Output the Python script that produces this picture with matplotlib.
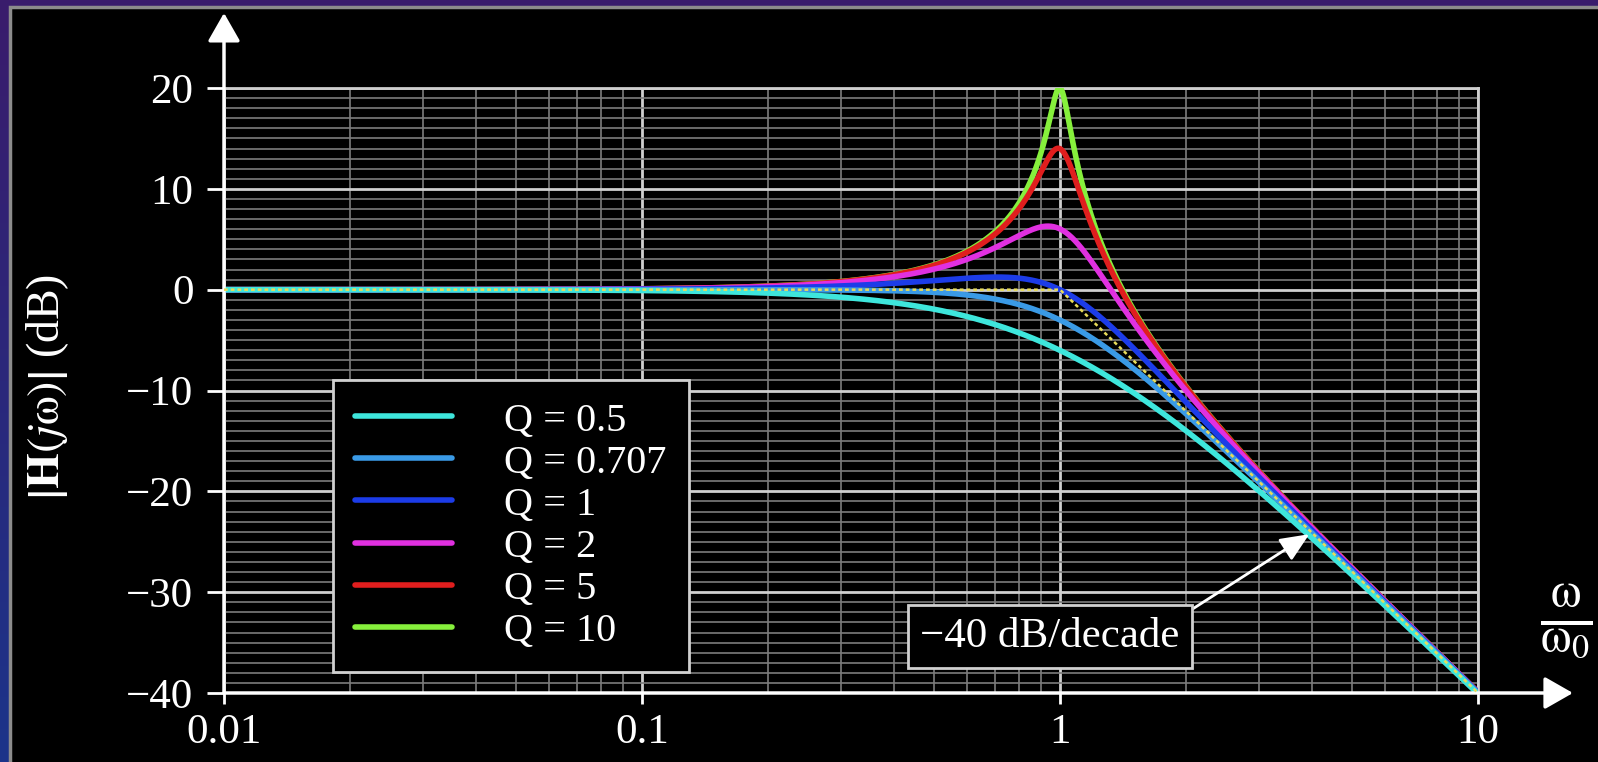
import numpy as np
import matplotlib
matplotlib.use("Agg")
import matplotlib.pyplot as plt
from matplotlib.patches import Rectangle
from matplotlib.ticker import FixedLocator, FixedFormatter, NullFormatter

# ---- data ----
q_values = [0.5, 0.707, 1, 2, 5, 10]
q_labels = ["Q = 0.5", "Q = 0.707", "Q = 1", "Q = 2", "Q = 5", "Q = 10"]
q_colors = ["#3ee6dc", "#3a9ae6", "#1c3ce8", "#e030e0", "#e01e1e", "#86f03c"]
x_ticks = [0.01, 0.1, 1, 10]
x_ticklabels = ["0.01", "0.1", "1", "10"]
y_ticks = [-40, -30, -20, -10, 0, 10, 20]
y_ticklabels = ["\u221240", "\u221230", "\u221220", "\u221210", "0", "10", "20"]
slope_label = "\u221240 dB/decade"
slope_point = (4.0, -24.1)

plt.rcParams["font.family"] = ["Liberation Serif", "DejaVu Serif"]
plt.rcParams["mathtext.fontset"] = "stix"

W, H = 1598, 762
fig = plt.figure(figsize=(W / 100, H / 100), dpi=100)
fig.patch.set_facecolor("#3a1c6c")

# background gradient (purple top -> blue bottom on the left)
bg = fig.add_axes([0, 0, 1, 1], zorder=-10)
grad = np.linspace(0, 1, 256)[:, None]
c_top = np.array([0x3a, 0x1c, 0x6c]) / 255
c_bot = np.array([0x1c, 0x34, 0x8a]) / 255
img = (c_top[None, None, :] * (1 - grad[..., None]) + c_bot[None, None, :] * grad[..., None])
bg.imshow(np.repeat(img, 2, axis=1), aspect="auto", extent=[0, 1, 0, 1])
bg.set_axis_off()
# black panel with gray border
fig.patches.append(Rectangle((10 / W, -0.05), 1.2, (H - 7) / H + 0.05,
                             transform=fig.transFigure, facecolor="black",
                             edgecolor="#8c8c8c", lw=2.5, zorder=-5))

ax = fig.add_axes([224 / W, (H - 693) / H, (1478 - 224) / W, (693 - 88) / H])
ax.set_facecolor("black")
ax.set_xscale("log")
ax.set_xlim(0.01, 10)
ax.set_ylim(-40, 20)

# grid
ax.xaxis.set_major_locator(FixedLocator(x_ticks))
ax.xaxis.set_major_formatter(FixedFormatter(x_ticklabels))
ax.xaxis.set_minor_locator(matplotlib.ticker.LogLocator(base=10, subs=np.arange(2, 10)))
ax.xaxis.set_minor_formatter(NullFormatter())
ax.yaxis.set_major_locator(FixedLocator(y_ticks))
ax.yaxis.set_major_formatter(FixedFormatter(y_ticklabels))
ax.yaxis.set_minor_locator(matplotlib.ticker.MultipleLocator(1))
ax.grid(which="major", color="#cfcfcf", lw=2.0, zorder=0)
ax.grid(which="minor", color="#7c7c7c", lw=1.2, zorder=0)
ax.set_axisbelow(True)

for s in ["left", "bottom"]:
    ax.spines[s].set_visible(False)
for s in ["top", "right"]:
    ax.spines[s].set_color("#cfcfcf")
    ax.spines[s].set_linewidth(2.0)

ax.tick_params(which="minor", length=0)
ax.tick_params(axis="y", which="major", length=12, width=2, color="white",
               labelcolor="white", labelsize=31, pad=10)
ax.tick_params(axis="x", which="major", length=8, width=2, color="white",
               labelcolor="white", labelsize=31, pad=7)

# curves
w = np.logspace(-2, 1, 3000)
for q, lab, col in reversed(list(zip(q_values, q_labels, q_colors))):
    mag = 1.0 / np.sqrt((1 - w ** 2) ** 2 + (w / q) ** 2)
    ax.plot(w, 20 * np.log10(mag), color=col, lw=4.0, label=lab,
            solid_capstyle="round", zorder=3)

# asymptote
asym = np.minimum(0, -40 * np.log10(w))
ax.plot(w, asym, color="#e8dc5a", lw=1.8, ls=(0, (1.5, 1.2)), zorder=4)

# axis arrows
ax.annotate("", xy=(0, 1.124), xytext=(0, 0), xycoords="axes fraction",
            arrowprops=dict(arrowstyle="-|>,head_length=0.7,head_width=0.4",
                            color="white", lw=2.5, mutation_scale=25,
                            shrinkA=0, shrinkB=0), annotation_clip=False)
ax.annotate("", xy=(1.0757, 0), xytext=(0, 0), xycoords="axes fraction",
            arrowprops=dict(arrowstyle="-|>,head_length=0.7,head_width=0.4",
                            color="white", lw=2.5, mutation_scale=25,
                            shrinkA=0, shrinkB=0), annotation_clip=False)

# legend
handles, labels = ax.get_legend_handles_labels()
leg = ax.legend(handles[::-1], labels[::-1], loc="lower left",
                bbox_to_anchor=(0.087, 0.035), borderaxespad=0,
                fontsize=29, handlelength=2.4, handletextpad=1.3,
                labelspacing=0.12, borderpad=0.55, fancybox=False,
                frameon=True, facecolor="black", edgecolor="#d0d0d0",
                framealpha=1, labelcolor="white")
leg.get_frame().set_linewidth(2.0)
leg.set_zorder(6)

# slope annotation
ax.annotate(slope_label, xy=slope_point, xytext=(0.946, -34.4),
            textcoords="data", ha="center", va="center", color="white",
            fontsize=31, zorder=7,
            bbox=dict(boxstyle="square,pad=0.28", fc="black", ec="#d0d0d0", lw=2),
            arrowprops=dict(arrowstyle="-|>,head_length=0.8,head_width=0.35",
                            color="white", lw=2, mutation_scale=22,
                            relpos=(1, 1), shrinkA=0, shrinkB=2))

# axis labels
fig.text(48 / W, 1 - 387 / H, r"$\left|\mathbf{H}(j\mathrm{\omega})\right|$ (dB)",
         rotation=90, ha="center", va="center", color="white", fontsize=33)
fig.text(1540 / W, 1 - 622 / H, r"$\frac{\mathrm{\omega}}{\mathrm{\omega}_0}$", ha="left",
         va="center", color="white", fontsize=50)

fig.savefig("out.png", dpi=100, facecolor=fig.get_facecolor())
